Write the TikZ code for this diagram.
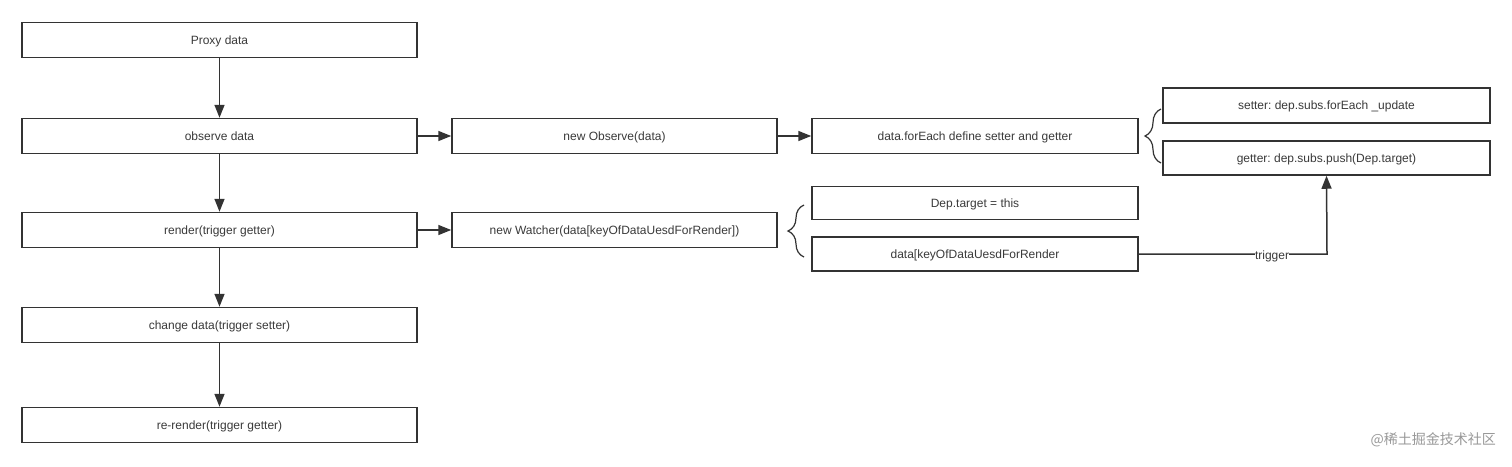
\documentclass[tikz,border=0pt]{standalone}
\usepackage{fontspec}
\setmainfont{Liberation Sans}
\newfontfamily\cjk{Noto Sans CJK SC}
\usetikzlibrary{arrows.meta,decorations.pathreplacing}
\definecolor{ln}{HTML}{333333}
\definecolor{tx}{HTML}{3a3a3a}
\frenchspacing
\tikzset{
  box/.style={draw=ln, line width=1.5pt, fill=white, minimum height=35pt, inner sep=0pt, text=tx, text height=8.5pt, text depth=0pt, font=\fontsize{12}{14}\selectfont},
  arr/.style={draw=ln, line width=1.5pt, -{Triangle[length=13pt,width=10pt]}},
  brc/.style={draw=ln, line width=1.2pt, decorate, decoration={brace, amplitude=16pt, aspect=0.5}},
}
\begin{document}
\begin{tikzpicture}[x=1pt,y=-1pt]
\useasboundingbox[fill=white] (0,0) rectangle (1512,466);
% left column
\node[box, minimum width=395pt] (proxy) at (219.5,40) {Proxy data};
\node[box, minimum width=395pt] (observe) at (219.5,136) {observe data};
\node[box, minimum width=395pt] (render) at (219.5,230) {render(trigger getter)};
\node[box, minimum width=395pt] (change) at (219.5,325) {change data(trigger setter)};
\node[box, minimum width=395pt] (rerender) at (219.5,425) {re-render(trigger getter)};
% middle column
\node[box, minimum width=325pt] (newobs) at (614.5,136) {new Observe(data)};
\node[box, minimum width=325pt] (newwat) at (614.5,230) {new Watcher(data[keyOfDataUesdForRender])};
% third column
\node[box, minimum width=326pt] (foreach) at (975,136) {data.forEach define setter and getter};
\node[box, minimum width=326pt, minimum height=33pt] (deptarget) at (975,203) {Dep.target = this};
\node[box, minimum width=326pt, minimum height=34pt] (datakey) at (975,254) {data[keyOfDataUesdForRender};
% right column
\node[box, minimum width=327pt] (setter) at (1326.5,105.5) {setter: dep.subs.forEach \_update};
\node[box, minimum width=327pt, minimum height=34pt] (getter) at (1326.5,158) {getter: dep.subs.push(Dep.target)};
% arrows
\draw[arr] (proxy) -- (observe);
\draw[arr] (observe) -- (render);
\draw[arr] (render) -- (change);
\draw[arr] (change) -- (rerender);
\draw[arr] (observe) -- (newobs);
\draw[arr] (render) -- (newwat);
\draw[arr] (newobs) -- (foreach);
\coordinate (bend) at (1327,254);
\draw[arr] (datakey.east) -- (bend) -- (getter.south);
\node[fill=white, inner sep=0.3pt, text=tx, text height=8.5pt, text depth=0pt, font=\fontsize{12}{14}\selectfont] (trig) at (1272,255) {trigger};
% braces
\coordinate (b1a) at (1161,163);
\coordinate (b1b) at (1161,109);
\draw[brc] (b1a) -- (b1b);
\coordinate (b2a) at (804,257);
\coordinate (b2b) at (804,205);
\draw[brc] (b2a) -- (b2b);
% watermark
\node[anchor=east, text=gray!80, font=\cjk\fontsize{14}{16}\selectfont, inner sep=0pt] (wm) at (1496,440) {@稀土掘金技术社区};
\end{tikzpicture}
\end{document}
